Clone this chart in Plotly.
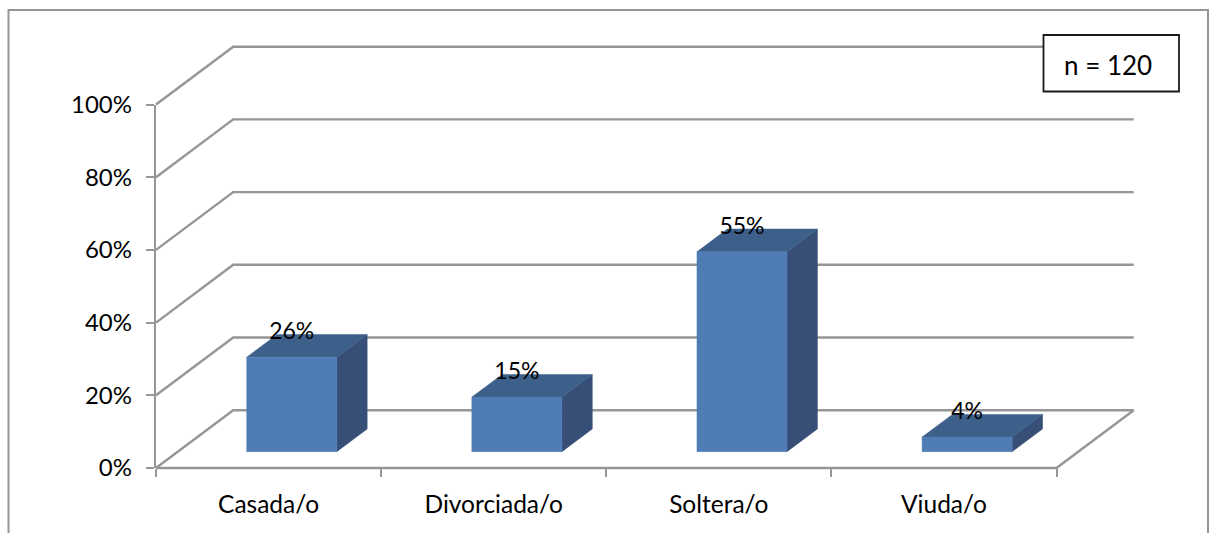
import plotly.graph_objects as go

# Estado civil: porcentaje por categoría
categories = ["Casada/o", "Divorciada/o", "Soltera/o", "Viuda/o"]
percent = [26, 15, 55, 4]
y_ticks = [0, 20, 40, 60, 80, 100]
y_tick_labels = ["0%", "20%", "40%", "60%", "80%", "100%"]
sample_note = "n = 120"

WIDTH, HEIGHT = 1213, 533
LEFT, RIGHT, TOP, BOTTOM = 156, 1056.5, 104.5, 468

GREY = "#969696"
FRONT, ROOF, SIDE = "#4F7CB4", "#3C6089", "#374F77"
FONT = "Lato, Carlito, Calibri, sans-serif"

# Oblique projection of the pseudo-3D box, in axis units
WALL_DX, WALL_DY = 0.343, 15.9      # floor depth
BAR_DX, BAR_DY = 0.103, 4.5         # how far into the floor the bars stand
DEPTH_DX, DEPTH_DY = 0.135, 6.25    # depth of each bar
BAR_WIDTH = 0.4
LABEL_DY = 6.5                      # value label above the front top edge

n = len(categories)
x_scale = (RIGHT - LEFT) / n        # pixels per category
y_scale = (BOTTOM - TOP) / 100      # pixels per percentage point


def px(x):
    return x / WIDTH


def py(y):
    return 1 - y / HEIGHT


fig = go.Figure()


def add_path(xs, ys, **kw):
    # The box drawing spills past the axes, so it lives on a full-page overlay
    # subplot that shares the scale of the visible axes.
    fig.add_trace(go.Scatter(x=xs, y=ys, xaxis="x2", yaxis="y2", cliponaxis=False,
                             hoverinfo="skip", showlegend=False, **kw))


# Walls and floor: each gridline runs back from the axis, then along the wall
grid_x, grid_y = [], []
for v in y_ticks:
    grid_x += [0, WALL_DX, n + WALL_DX, None]
    grid_y += [v, v + WALL_DY, v + WALL_DY, None]
grid_x += [n + WALL_DX, n, 0]
grid_y += [WALL_DY, 0, 0]
add_path(grid_x, grid_y, mode="lines", line=dict(color=GREY, width=2.4))

# Bars as three faces, projected from the values
front_x, front_y, roof_x, roof_y, side_x, side_y = [], [], [], [], [], []
for i, v in enumerate(percent):
    x0 = i + 0.5 + BAR_DX - BAR_WIDTH / 2
    x1 = x0 + BAR_WIDTH
    y0, y1 = BAR_DY, BAR_DY + v
    front_x += [x0, x1, x1, x0, x0, None]
    front_y += [y0, y0, y1, y1, y0, None]
    roof_x += [x0, x1, x1 + DEPTH_DX, x0 + DEPTH_DX, x0, None]
    roof_y += [y1, y1, y1 + DEPTH_DY, y1 + DEPTH_DY, y1, None]
    side_x += [x1, x1 + DEPTH_DX, x1 + DEPTH_DX, x1, x1, None]
    side_y += [y0, y0 + DEPTH_DY, y1 + DEPTH_DY, y1, y0, None]

for xs, ys, color in [(side_x, side_y, SIDE), (roof_x, roof_y, ROOF), (front_x, front_y, FRONT)]:
    add_path(xs, ys, mode="lines", fill="toself", fillcolor=color, line=dict(color=color, width=0.5))

# Value labels
add_path([i + 0.5 + BAR_DX for i in range(n)],
         [BAR_DY + v + LABEL_DY for v in percent],
         mode="text", text=[f"{v}%" for v in percent], textposition="middle center",
         textfont=dict(family=FONT, size=23, color="#000000"))

# Invisible trace so the labelled axes are drawn
fig.add_trace(go.Scatter(x=[0, n], y=[0, 100], mode="none", hoverinfo="skip", showlegend=False))

fig.update_layout(
    width=WIDTH, height=HEIGHT,
    margin=dict(l=0, r=0, t=0, b=0, autoexpand=False),
    paper_bgcolor="white", plot_bgcolor="rgba(0,0,0,0)",
    font=dict(family=FONT, size=24, color="#000000"),
    showlegend=False,
    xaxis=dict(domain=[px(LEFT), px(RIGHT)], range=[0, n], anchor="y",
               tickvals=[i + 0.5 for i in range(n)], ticktext=categories,
               tickfont=dict(family=FONT, size=24.5, color="#000000"),
               ticks="", ticklabelstandoff=19, showgrid=False, zeroline=False,
               showline=False, fixedrange=True,
               minor=dict(tickvals=list(range(n + 1)), ticks="outside", ticklen=8,
                          tickwidth=2, tickcolor=GREY, showgrid=False)),
    yaxis=dict(domain=[py(BOTTOM), py(TOP)], range=[0, 100], anchor="x",
               tickvals=y_ticks, ticktext=y_tick_labels,
               tickfont=dict(family=FONT, size=24, color="#000000"),
               ticks="outside", ticklen=8, tickwidth=2, tickcolor=GREY,
               ticklabelstandoff=9, showgrid=False, zeroline=False,
               showline=True, linecolor=GREY, linewidth=2.4, fixedrange=True),
    xaxis2=dict(domain=[0, 1], anchor="y2", visible=False, fixedrange=True,
                range=[-LEFT / x_scale, (WIDTH - LEFT) / x_scale]),
    yaxis2=dict(domain=[0, 1], anchor="x2", visible=False, fixedrange=True,
                range=[(BOTTOM - HEIGHT) / y_scale, BOTTOM / y_scale]),
    shapes=[
        # Chart frame, open at the bottom edge
        dict(type="path", xref="paper", yref="paper", layer="below",
             path=f"M {px(8.5)} {py(533)} L {px(8.5)} {py(10)} L {px(1208)} {py(10)} L {px(1208)} {py(533)}",
             line=dict(color=GREY, width=2)),
        # Sample-size box
        dict(type="rect", xref="paper", yref="paper", layer="above",
             x0=px(1043.5), x1=px(1179), y0=py(91.5), y1=py(35),
             fillcolor="white", line=dict(color="#1a1a1a", width=1.8)),
    ],
    annotations=[
        dict(text=sample_note, xref="paper", yref="paper", showarrow=False,
             x=px(1108), y=py(65), xanchor="center", yanchor="middle",
             font=dict(family=FONT, size=26, color="#000000")),
    ],
)

fig.write_html("out.html", config=dict(displayModeBar=False))
